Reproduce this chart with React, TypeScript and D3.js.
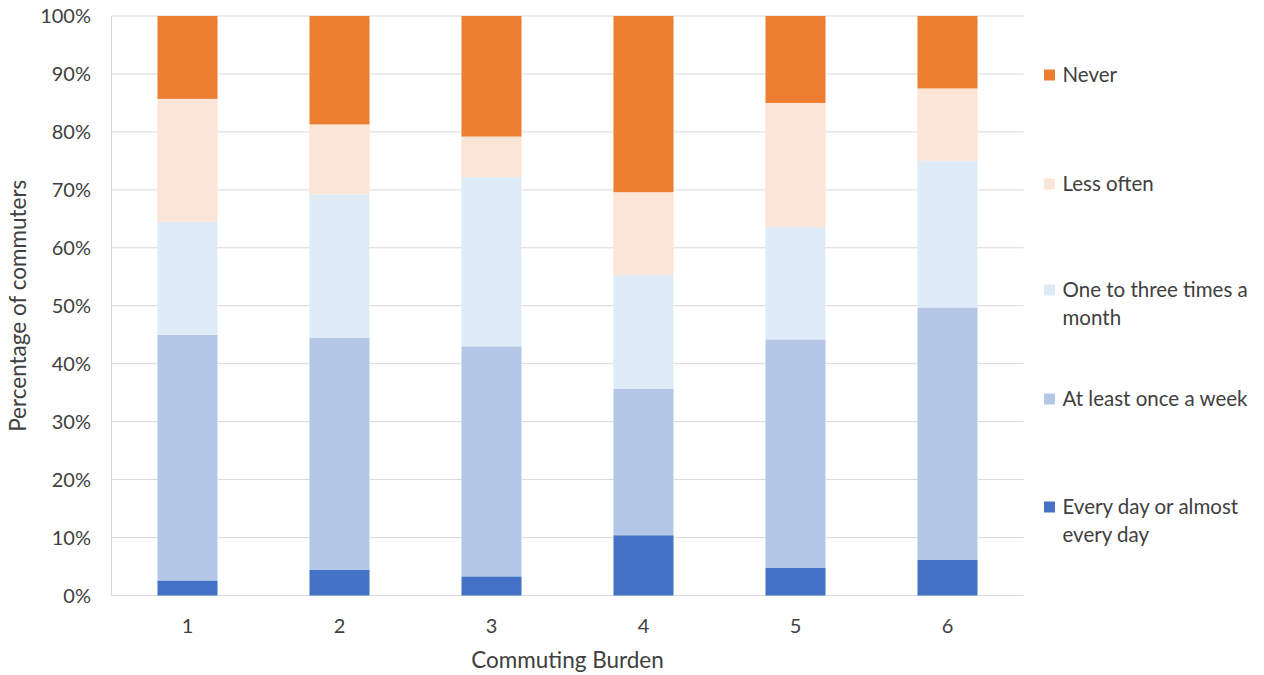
import React from "react";
import * as d3 from "d3";

const categories = ["1", "2", "3", "4", "5", "6"];
const seriesNames = [
  "Every day or almost every day",
  "At least once a week",
  "One to three times a month",
  "Less often",
  "Never",
];
const everyDay = [2.6, 4.4, 3.3, 10.4, 4.8, 6.2];
const onceWeek = [42.4, 40.1, 39.7, 25.3, 39.4, 43.5];
const monthly = [19.5, 24.7, 29.2, 19.6, 19.4, 25.3];
const lessOften = [21.2, 12.1, 7.0, 14.3, 21.4, 12.5];
const never = [14.3, 18.7, 20.8, 30.4, 15.0, 12.5];
const colors = ["#4472C4", "#B4C7E7", "#DEEBF7", "#FBE5D6", "#ED7D31"];
const yTicks = [0, 10, 20, 30, 40, 50, 60, 70, 80, 90, 100];
const legendLines: string[][] = [
  ["Never"],
  ["Less often"],
  ["One to three times a", "month"],
  ["At least once a week"],
  ["Every day or almost", "every day"],
];

export default function App() {
  const W = 1264, H = 675;
  const left = 111.5, right = 1023.5, top = 16, bottom = 595.5;
  const font = "Lato, 'Open Sans', sans-serif";
  const textColor = "#404040";

  const x = d3.scaleBand<string>().domain(categories).range([left, right]).paddingInner(0.605).paddingOuter(0.3025);
  const y = d3.scaleLinear().domain([0, 100]).range([bottom, top]);

  const table = categories.map((c, i) => ({
    cat: c,
    s0: everyDay[i],
    s1: onceWeek[i],
    s2: monthly[i],
    s3: lessOften[i],
    s4: never[i],
  }));
  const stack = d3.stack<any>().keys(["s0", "s1", "s2", "s3", "s4"])
    .offset(d3.stackOffsetExpand);
  const layers = stack(table);

  const legendOrder = [4, 3, 2, 1, 0];
  const legendY = [75, 184, 290, 399, 507];

  return (
    <svg width={W} height={H} style={{ position: "absolute", left: 0, top: 0, background: "#fff" }}>
      {yTicks.map((t) => (
        <line key={"g" + t} x1={left} x2={right} y1={y(t)} y2={y(t)} stroke="#d9d9d9" strokeWidth={1} />
      ))}
      <line x1={left} x2={left} y1={top} y2={bottom} stroke="#d9d9d9" strokeWidth={1} />
      {yTicks.map((t) => (
        <text key={"t" + t} x={91} y={y(t)} dy="0.35em" textAnchor="end" fontFamily={font} fontSize={20} fill={textColor}>
          {t}%
        </text>
      ))}
      {layers.map((layer, li) =>
        layer.map((d, i) => (
          <rect
            key={li + "-" + i}
            x={x(categories[i])}
            width={x.bandwidth()}
            y={y(d[1] * 100)}
            height={y(d[0] * 100) - y(d[1] * 100)}
            fill={colors[li]}
          />
        ))
      )}
      {categories.map((c) => (
        <text key={"x" + c} x={(x(c) as number) + x.bandwidth() / 2} y={626} dy="0.35em" textAnchor="middle" fontFamily={font} fontSize={20} fill={textColor}>
          {c}
        </text>
      ))}
      <text x={(left + right) / 2} y={660} dy="0.35em" textAnchor="middle" fontFamily={font} fontSize={22.5} fill={textColor}>
        Commuting Burden
      </text>
      <text transform={`translate(18,${(top + bottom) / 2}) rotate(-90)`} dy="0.35em" textAnchor="middle" fontFamily={font} fontSize={22.5} fill={textColor}>
        Percentage of commuters
      </text>
      {legendOrder.map((si, k) => (
        <g key={"l" + si}>
          <rect x={1044} y={legendY[k] - 5.5} width={11} height={11} fill={colors[si]} />
          {legendLines[k].map((ln, j) => (
            <text key={j} x={1062.5} y={legendY[k] + j * 28} dy="0.35em" fontFamily={font} fontSize={20.5} fill={textColor}>
              {ln}
            </text>
          ))}
        </g>
      ))}
    </svg>
  );
}
